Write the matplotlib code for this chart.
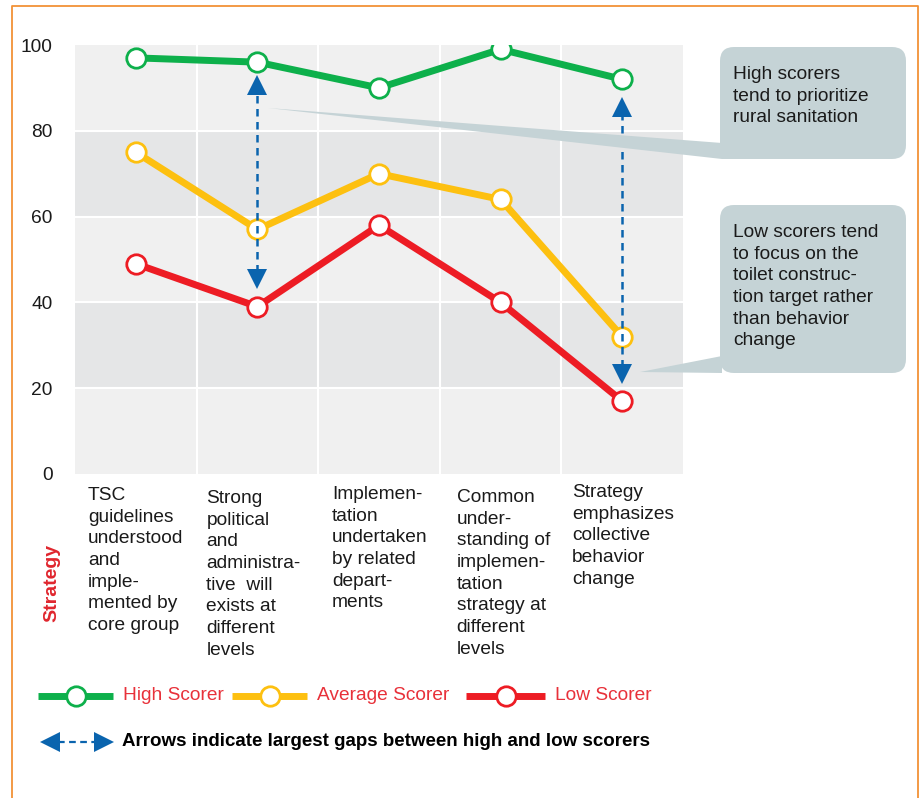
import matplotlib.pyplot as plt
import numpy as np
from matplotlib.lines import Line2D
from matplotlib.patches import FancyBboxPatch, Polygon
from matplotlib.transforms import Affine2D

plt.rcParams['font.family'] = ['Liberation Sans', 'DejaVu Sans']

# Scores per strategy item
categories = [
    'TSC\nguidelines\nunderstood\nand\nimple-\nmented by\ncore group',
    'Strong\npolitical\nand\nadministra-\ntive  will\nexists at\ndifferent\nlevels',
    'Implemen-\ntation\nundertaken\nby related\ndepart-\nments',
    'Common\nunder-\nstanding of\nimplemen-\ntation\nstrategy at\ndifferent\nlevels',
    'Strategy\nemphasizes\ncollective\nbehavior\nchange',
]
high_scorer = [97, 96, 90, 99, 92]
average_scorer = [75, 57, 70, 64, 32]
low_scorer = [49, 39, 58, 40, 17]

# Largest gaps between high and low scorers: (category, arrow bottom, arrow top)
gap_arrows = [(1, 43, 93), (4, 21, 88)]

callout_high = 'High scorers\ntend to prioritize\nrural sanitation'
callout_low = ('Low scorers tend\nto focus on the\ntoilet construc-\n'
               'tion target rather\nthan behavior\nchange')

GREEN = '#0db04b'
YELLOW = '#fdc010'
RED = '#ed1c24'
BLUE = '#0a64ae'
BOX = '#c5d3d6'
ORANGE = '#f29237'
LIGHT = '#f0f0f0'
DARK = '#e5e6e7'
TEXT = '#1a1a1a'
FS = 13.8

W, H = 923, 798
fig = plt.figure(figsize=(W / 100, H / 100), dpi=100)
# pixel coordinates, origin top-left
px = Affine2D().scale(1 / W, -1 / H).translate(0, 1) + fig.transFigure

ax = fig.add_axes([75 / W, 1 - 474 / H, 608 / W, 429 / H])
x = np.arange(len(categories))
ax.set_xlim(-0.5, len(categories) - 0.5)
ax.set_ylim(0, 100)

# alternating bands and white grid
for i, lo in enumerate(range(0, 100, 20)):
    ax.axhspan(lo, lo + 20, color=LIGHT if i % 2 == 0 else DARK, lw=0, zorder=0)
for yv in range(20, 100, 20):
    ax.axhline(yv, color='white', lw=1.5, zorder=1)
for xv in x[:-1] + 0.5:
    ax.axvline(xv, color='white', lw=1.5, zorder=1)

for s in ax.spines.values():
    s.set_visible(False)
ax.set_xticks([])
ax.set_yticks(range(0, 101, 20))
ax.tick_params(axis='y', length=0, pad=16, labelsize=FS, labelcolor=TEXT)

# callout pointers
fig.add_artist(Polygon([(268, 108), (722, 143), (738, 159), (722, 159)],
                       closed=True, transform=px, fc=BOX, ec='none', zorder=2))
fig.add_artist(Polygon([(640, 372), (722, 356), (722, 373)],
                       closed=True, transform=px, fc=BOX, ec='none', zorder=2))

for vals, col in [(high_scorer, GREEN), (average_scorer, YELLOW), (low_scorer, RED)]:
    ax.plot(x, vals, color=col, lw=5, marker='o', ms=14, mfc='white',
            mec=col, mew=2, zorder=3, solid_joinstyle='miter')

for xi, lo, hi in gap_arrows:
    ax.plot([xi, xi], [lo + 4, hi - 4], color=BLUE, lw=1.8, ls=(0, (3, 2.2)), zorder=5)
    ax.plot(xi, hi - 2.4, marker='^', ms=14, color=BLUE, mew=0, zorder=5)
    ax.plot(xi, lo + 2.4, marker='v', ms=14, color=BLUE, mew=0, zorder=5)

# category labels under the axis
label_offsets = [(-48, -13), (-51, -16), (-47, -12), (-44, -15), (-50, -10)]
for xi, lab, (dx, dy) in zip(x, categories, label_offsets):
    ax.annotate(lab, xy=(xi, 0), xycoords=('data', 'axes fraction'),
                xytext=(dx, dy), textcoords='offset pixels', ha='left', va='top',
                fontsize=FS, linespacing=1.36, color=TEXT, annotation_clip=False)

fig.text(52, 583, 'Strategy', transform=px, rotation=90, ha='center', va='center',
         color='#e0262e', fontsize=14, fontweight='bold')

# callout boxes
for (x0, y0, x1, y1), txt in [((720, 47, 906, 159), callout_high),
                              ((720, 205, 906, 373), callout_low)]:
    fig.add_artist(FancyBboxPatch((x0, y0), x1 - x0, y1 - y0,
                                  boxstyle='round,pad=0,rounding_size=14',
                                  transform=px, fc=BOX, ec='none', zorder=2))
    fig.text(x0 + 13, y0 + 19, txt, transform=px, ha='left', va='top',
             fontsize=FS, linespacing=1.36, color=TEXT)

# legend
legend_items = [('High Scorer', GREEN, 38, 113), ('Average Scorer', YELLOW, 232, 307),
                ('Low Scorer', RED, 466, 545)]
for name, col, x0, x1 in legend_items:
    fig.add_artist(Line2D([x0, x1], [696, 696], transform=px, color=col, lw=5,
                          solid_capstyle='butt'))
    fig.add_artist(Line2D([(x0 + x1) / 2], [696], transform=px, marker='o', ms=14,
                          mfc='white', mec=col, mew=2))
    fig.text(x1 + 10, 696, name, transform=px, ha='left', va='center',
             fontsize=FS, color='#e8313a')

fig.add_artist(Line2D([58, 96], [742, 742], transform=px, color=BLUE, lw=1.6,
                      ls=(0, (3, 2))))
fig.add_artist(Line2D([50], [742], transform=px, marker='<', ms=15, color=BLUE, mew=0))
fig.add_artist(Line2D([104], [742], transform=px, marker='>', ms=15, color=BLUE, mew=0))
fig.text(122, 742, 'Arrows indicate largest gaps between high and low scorers',
         transform=px, ha='left', va='center', fontsize=13.5, fontweight='bold',
         color='black')

# frame
fig.add_artist(Line2D([12, 12, 918, 918], [800, 6, 6, 800], transform=px,
                      color=ORANGE, lw=1.3))

fig.savefig('out.png', dpi=100)
